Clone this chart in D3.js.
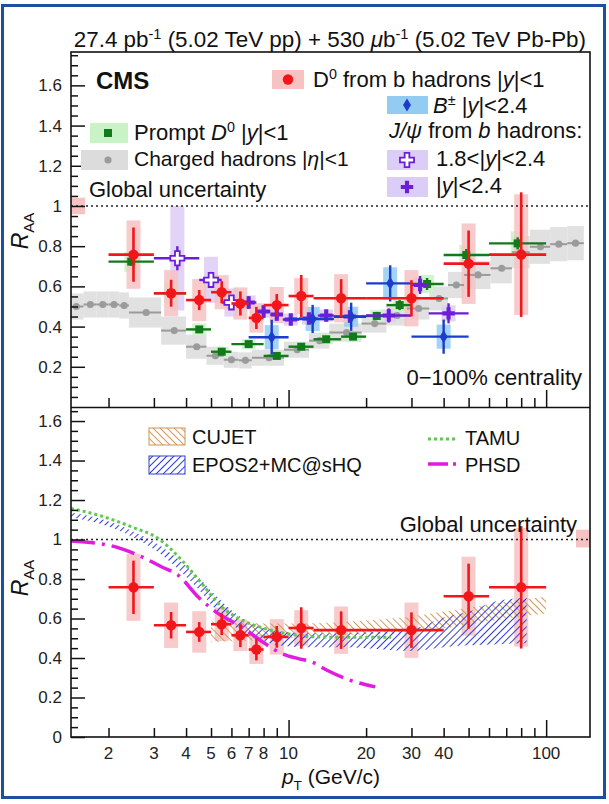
<!DOCTYPE html>
<html>
<head>
<meta charset="utf-8">
<script src="https://cdn.jsdelivr.net/npm/d3@7"></script>
<style>
  body { margin: 0; background: #fff; }
  svg { display: block; font-family: "Liberation Sans", Arial, Helvetica, sans-serif; }
</style>
</head>
<body>
<svg id="chart" width="609" height="804"></svg>
<script>
// ---- data ----
// D0 from b hadrons |y|<1 (red, both panels)
const npD0Lo   = [2, 3, 4, 5, 6, 7, 8, 10, 12.5, 20, 40, 60];
const npD0Hi   = [3, 4, 5, 6, 7, 8, 10, 12.5, 20, 40, 60, 100];
const npD0Pt   = [2.5, 3.5, 4.5, 5.5, 6.5, 7.5, 9, 11.2, 16, 30, 50, 80];
const npD0Val  = [0.758, 0.566, 0.532, 0.571, 0.515, 0.443, 0.507, 0.552, 0.541, 0.541, 0.713, 0.758];
const npD0Stat = [0.135, 0.067, 0.05, 0.055, 0.06, 0.055, 0.055, 0.105, 0.095, 0.09, 0.165, 0.31];
const npD0Syst = [0.17, 0.115, 0.105, 0.085, 0.08, 0.073, 0.09, 0.09, 0.12, 0.14, 0.2, 0.3];

// prompt D0 |y|<1 (green)
const pD0Lo   = [2, 3, 4, 5, 6, 8, 10, 12.5, 16, 20, 24, 30, 40, 60];
const pD0Hi   = [3, 4, 5, 6, 8, 10, 12.5, 16, 20, 24, 30, 40, 60, 100];
const pD0Pt   = [2.45, 3.5, 4.5, 5.5, 7, 9, 11.2, 14, 17.8, 22, 27, 34.5, 49, 77.5];
const pD0Val  = [0.723, 0.566, 0.386, 0.275, 0.313, 0.254, 0.30, 0.337, 0.35, 0.453, 0.507, 0.612, 0.756, 0.814];
const pD0Stat = [0.02, 0.015, 0.012, 0.01, 0.01, 0.01, 0.01, 0.012, 0.015, 0.02, 0.025, 0.03, 0.03, 0.03];
const pD0Syst = [0.05, 0.05, 0.03, 0.025, 0.025, 0.02, 0.02, 0.025, 0.025, 0.03, 0.035, 0.045, 0.05, 0.06];

// B+- |y|<2.4 (blue)
const bLo   = [7, 10, 15, 20, 30];
const bHi   = [10, 15, 20, 30, 50];
const bPt   = [8.6, 12.4, 17.5, 24.8, 40];
const bVal  = [0.347, 0.438, 0.449, 0.615, 0.35];
const bStat = [0.087, 0.07, 0.07, 0.09, 0.085];
const bSyst = [0.06, 0.06, 0.05, 0.08, 0.06];

// non-prompt J/psi 1.8<|y|<2.4 (open purple)
const jFwdLo   = [3, 4.5, 5.5];
const jFwdHi   = [4.5, 5.5, 6.5];
const jFwdPt   = [3.7, 5.0, 6.0];
const jFwdVal  = [0.74, 0.632, 0.52];
const jFwdStat = [0.06, 0.04, 0.035];
const jFwdSyst = [0.26, 0.115, 0.07];

// non-prompt J/psi |y|<2.4 (filled purple)
const jLo   = [6.5, 7.5, 8.5, 9.5, 11, 13, 15, 20, 30, 35];
const jHi   = [7.5, 8.5, 9.5, 11, 13, 15, 20, 30, 35, 50];
const jPt   = [7, 8, 9, 10.2, 12, 14, 17.3, 24.5, 32.4, 41.8];
const jVal  = [0.52, 0.475, 0.46, 0.435, 0.44, 0.455, 0.45, 0.455, 0.607, 0.466];
const jStat = [0.03, 0.03, 0.03, 0.025, 0.025, 0.025, 0.03, 0.035, 0.045, 0.05];
const jSyst = [0.035, 0.03, 0.03, 0.03, 0.03, 0.03, 0.03, 0.03, 0.04, 0.04];

// charged hadrons |eta|<1 (gray)
const hLo  = [1.4, 1.6, 1.8, 2.0, 2.2, 2.4, 3.2, 4.0, 4.8, 5.6, 6.4, 7.2, 9.6, 12, 14.4, 19.2, 24, 28.8, 35.2, 41.6, 48, 60.8, 73.6, 86.4, 103.6, 120.8];
const hHi  = [1.6, 1.8, 2.0, 2.2, 2.4, 3.2, 4.0, 4.8, 5.6, 6.4, 7.2, 9.6, 12, 14.4, 19.2, 24, 28.8, 35.2, 41.6, 48, 60.8, 73.6, 86.4, 103.6, 120.8, 140];
const hPt  = [1.5, 1.7, 1.9, 2.1, 2.3, 2.8, 3.6, 4.4, 5.2, 6.0, 6.8, 8.4, 10.8, 13.2, 16.8, 21.6, 26.4, 32, 38.4, 44.8, 54.4, 67.2, 80, 95, 112, 130];
const hVal = [0.50, 0.51, 0.51, 0.51, 0.505, 0.47, 0.38, 0.30, 0.255, 0.235, 0.232, 0.245, 0.285, 0.33, 0.37, 0.415, 0.455, 0.49, 0.54, 0.607, 0.657, 0.69, 0.77, 0.797, 0.81, 0.815];
const hSyst = [0.065, 0.065, 0.065, 0.065, 0.065, 0.075, 0.07, 0.06, 0.045, 0.04, 0.04, 0.04, 0.04, 0.04, 0.045, 0.045, 0.05, 0.055, 0.06, 0.065, 0.07, 0.075, 0.08, 0.085, 0.085, 0.085];

// models (bottom panel)
const tamuPt = [1.43, 1.83, 2.46, 3.12, 3.85, 4.6, 5.5, 6.4, 8.1, 10.9, 12.7, 17, 25];
const tamuR  = [1.157, 1.123, 1.064, 1.005, 0.895, 0.777, 0.659, 0.60, 0.549, 0.515, 0.507, 0.505, 0.505];
const phsdPt = [1.43, 2.13, 2.61, 3.22, 3.73, 4.46, 5.34, 6.58, 8.1, 9.41, 10.9, 12.3, 14.1, 17.3, 21.7];
const phsdR  = [0.993, 0.963, 0.92, 0.861, 0.819, 0.709, 0.625, 0.557, 0.473, 0.423, 0.397, 0.38, 0.338, 0.288, 0.254];
const eposPt = [1.43, 1.83, 2.46, 3.12, 3.73, 4.46, 5.18, 6.02, 7.2, 9.13, 11.6, 16, 20, 30, 40, 50, 65, 84];
const eposLo = [1.113, 1.082, 1.015, 0.935, 0.85, 0.75, 0.65, 0.57, 0.505, 0.465, 0.455, 0.455, 0.45, 0.435, 0.455, 0.465, 0.47, 0.475];
const eposHi = [1.137, 1.108, 1.045, 0.975, 0.90, 0.81, 0.72, 0.64, 0.575, 0.535, 0.525, 0.525, 0.53, 0.545, 0.605, 0.635, 0.69, 0.705];
const cujetPt = [5, 6, 8, 10, 15, 20, 30, 40, 50, 70, 100];
const cujetLo = [0.48, 0.485, 0.49, 0.50, 0.515, 0.52, 0.53, 0.55, 0.57, 0.60, 0.625];
const cujetHi = [0.585, 0.58, 0.575, 0.575, 0.58, 0.59, 0.61, 0.635, 0.655, 0.685, 0.71];

// axes
const yTickVals = [0, 0.2, 0.4, 0.6, 0.8, 1, 1.2, 1.4, 1.6];
const xLabelVals = [2, 3, 4, 5, 6, 7, 8, 10, 20, 30, 40, 100];
const xMajor = [10, 100];
const xMinor = [2, 3, 4, 5, 6, 7, 8, 9, 20, 30, 40, 50, 60, 70, 80, 90];

// ---- drawing ----
const svg = d3.select("#chart");
const L = 71, R = 590;
const x = d3.scaleLog().domain([1.43, 148]).range([L, R]);
const yTop = d3.scaleLinear().domain([0, 1.766]).range([407, 52]);
const yBot = d3.scaleLinear().domain([0, 1.666]).range([737, 408]);

const defs = svg.append("defs");
defs.append("clipPath").attr("id", "clipTop").append("rect")
    .attr("x", L).attr("y", 52).attr("width", R - L).attr("height", 355);
defs.append("clipPath").attr("id", "clipBot").append("rect")
    .attr("x", L).attr("y", 408).attr("width", R - L).attr("height", 329);

function hatch(id, color, angle, w) {
    defs.append("pattern").attr("id", id)
        .attr("patternUnits", "userSpaceOnUse")
        .attr("width", 5).attr("height", 5)
        .attr("patternTransform", `rotate(${angle})`)
        .append("line")
        .attr("x1", 0).attr("y1", 0).attr("x2", 0).attr("y2", 5)
        .attr("stroke", color).attr("stroke-width", w);
}
hatch("hatchCujet", "#d1914e", -45, 1.8);
hatch("hatchEpos", "#3040d8", 45, 2);

// outer blue border
svg.append("rect").attr("x", 2.5).attr("y", 5.5).attr("width", 602).attr("height", 792)
    .attr("fill", "none").attr("stroke", "#1f4f9e").attr("stroke-width", 3);

function rich(g, xp, yp, parts, size, anchor) {
    const t = g.append("text").attr("x", xp).attr("y", yp)
        .attr("font-size", size).attr("text-anchor", anchor || "start").attr("fill", "#111");
    let shift = 0;
    parts.forEach(p => {
        const sp = t.append("tspan").text(p.t);
        const target = p.sup ? -0.36 * size : p.sub ? 0.28 * size : 0;
        if (target !== shift) { sp.attr("dy", target - shift); shift = target; }
        if (p.sup || p.sub) sp.attr("font-size", size * 0.65);
        if (p.it) sp.attr("font-style", "italic");
        if (p.b) sp.attr("font-weight", "bold");
    });
    return t;
}

const sym = {
    circle: d3.symbol(d3.symbolCircle, 85)(),
    small: d3.symbol(d3.symbolCircle, 40)(),
    square: d3.symbol(d3.symbolSquare, 64)(),
    diamond: "M0,-6.5L4,0L0,6.5L-4,0Z",
    cross: d3.symbol(d3.symbolCross, 85)(),
    ocross: d3.symbol(d3.symbolCross, 110)()
};

function drawBoxes(g, y, s) {
    g.selectAll(null).data(s.val).enter().append("rect")
        .attr("x", (d, i) => s.boxW ? x(s.pt[i]) - s.boxW / 2 : x(s.lo[i]))
        .attr("width", (d, i) => s.boxW ? s.boxW : x(s.hi[i]) - x(s.lo[i]))
        .attr("y", (d, i) => y(d + s.syst[i]))
        .attr("height", (d, i) => y(d - s.syst[i]) - y(d + s.syst[i]))
        .attr("fill", s.boxColor).attr("opacity", 0.85);
}

function drawPoints(g, y, s) {
    const sg = g.append("g");
    sg.selectAll(null).data(s.val).enter().append("line")
        .attr("x1", (d, i) => x(s.lo[i])).attr("x2", (d, i) => x(s.hi[i]))
        .attr("y1", d => y(d)).attr("y2", d => y(d))
        .attr("stroke", s.color).attr("stroke-width", s.lw);
    if (s.stat) {
        sg.selectAll(null).data(s.val).enter().append("line")
            .attr("x1", (d, i) => x(s.pt[i])).attr("x2", (d, i) => x(s.pt[i]))
            .attr("y1", (d, i) => y(d + s.stat[i])).attr("y2", (d, i) => y(d - s.stat[i]))
            .attr("stroke", s.color).attr("stroke-width", s.lw);
    }
    sg.selectAll(null).data(s.val).enter().append("path")
        .attr("d", s.marker)
        .attr("transform", (d, i) => `translate(${x(s.pt[i])},${y(d)})`)
        .attr("fill", s.open ? "#fff" : s.color)
        .attr("stroke", s.open ? s.color : "none")
        .attr("stroke-width", 1.8);
}

const red = { lo: npD0Lo, hi: npD0Hi, pt: npD0Pt, val: npD0Val, stat: npD0Stat, syst: npD0Syst,
    color: "#f2161b", boxColor: "#f6c2c2", boxW: 14, marker: sym.circle, lw: 2.6 };
const green = { lo: pD0Lo, hi: pD0Hi, pt: pD0Pt, val: pD0Val, stat: pD0Stat, syst: pD0Syst,
    color: "#137a1b", boxColor: "#c9f3c6", boxW: 14, marker: sym.square, lw: 2.4 };
const blue = { lo: bLo, hi: bHi, pt: bPt, val: bVal, stat: bStat, syst: bSyst,
    color: "#1b3ccc", boxColor: "#93cbf3", boxW: 14, marker: sym.diamond, lw: 2.4 };
const purpO = { lo: jFwdLo, hi: jFwdHi, pt: jFwdPt, val: jFwdVal, stat: jFwdStat, syst: jFwdSyst,
    color: "#6a1fd6", boxColor: "#dccdf6", boxW: 14, marker: sym.ocross, lw: 2.4, open: true };
const purpF = { lo: jLo, hi: jHi, pt: jPt, val: jVal, stat: jStat, syst: jSyst,
    color: "#6a1fd6", boxColor: "#dccdf6", boxW: 14, marker: sym.cross, lw: 2.4 };
const gray = { lo: hLo, hi: hHi, pt: hPt, val: hVal, syst: hSyst,
    color: "#9b9b9b", boxColor: "#dcdcdc", marker: sym.small, lw: 2 };

// ---------- top panel ----------
const gTop = svg.append("g").attr("clip-path", "url(#clipTop)");
drawBoxes(gTop, yTop, gray);
[purpO, purpF, green, blue, red].forEach(s => drawBoxes(gTop, yTop, s));
gTop.append("rect").attr("x", L).attr("width", 14)
    .attr("y", yTop(1.041)).attr("height", yTop(0.959) - yTop(1.041)).attr("fill", "#f6c2c2");
gTop.append("line").attr("x1", L).attr("x2", R).attr("y1", yTop(1)).attr("y2", yTop(1))
    .attr("stroke", "#222").attr("stroke-width", 1.6).attr("stroke-dasharray", "2,3");
[gray, green, purpO, purpF, blue, red].forEach(s => drawPoints(gTop, yTop, s));

// ---------- bottom panel ----------
const gBot = svg.append("g").attr("clip-path", "url(#clipBot)");
drawBoxes(gBot, yBot, red);
gBot.append("rect").attr("x", R - 14).attr("width", 14)
    .attr("y", yBot(1.05)).attr("height", yBot(0.96) - yBot(1.05)).attr("fill", "#f6c2c2");
gBot.append("line").attr("x1", L).attr("x2", R).attr("y1", yBot(1)).attr("y2", yBot(1))
    .attr("stroke", "#222").attr("stroke-width", 1.6).attr("stroke-dasharray", "2,3");

const band = d3.area().x(d => x(d[0])).y0(d => yBot(d[1])).y1(d => yBot(d[2])).curve(d3.curveMonotoneX);
gBot.append("path").attr("d", band(cujetPt.map((p, i) => [p, cujetLo[i], cujetHi[i]])))
    .attr("fill", "url(#hatchCujet)");
gBot.append("path").attr("d", band(eposPt.map((p, i) => [p, eposLo[i], eposHi[i]])))
    .attr("fill", "url(#hatchEpos)");

const curve = d3.line().x(d => x(d[0])).y(d => yBot(d[1])).curve(d3.curveMonotoneX);
gBot.append("path").attr("d", curve(tamuPt.map((p, i) => [p, tamuR[i]])))
    .attr("fill", "none").attr("stroke", "#5fc84e").attr("stroke-width", 3).attr("stroke-dasharray", "3,3");
gBot.append("path").attr("d", curve(phsdPt.map((p, i) => [p, phsdR[i]])))
    .attr("fill", "none").attr("stroke", "#e11be0").attr("stroke-width", 3.5).attr("stroke-dasharray", "24,7,3,7");
drawPoints(gBot, yBot, red);

// ---------- axes ----------
function yAxis(y, vals, show0) {
    const g = svg.append("g").attr("transform", `translate(${L},0)`);
    g.append("g").call(d3.axisLeft(y).tickValues(vals).tickSizeInner(-14).tickSizeOuter(0).tickPadding(9)
        .tickFormat(d => (d === 0 && !show0) ? "" : (d === 0 || d === 1) ? String(d) : d.toFixed(1)));
    const minor = d3.range(0, y.domain()[1], 0.05).filter(v => Math.abs(v * 5 - Math.round(v * 5)) > 1e-6);
    g.append("g").call(d3.axisLeft(y).tickValues(minor).tickSizeInner(-7).tickSizeOuter(0).tickFormat(""));
    g.selectAll(".domain").remove();
    g.selectAll("line").attr("stroke", "#111").attr("stroke-width", 1.5);
    g.selectAll("text").attr("fill", "#222").attr("font-size", 17)
        .attr("font-family", "Liberation Sans, Arial, sans-serif");
}
yAxis(yTop, yTickVals.filter(v => v > 0), false);
yAxis(yBot, yTickVals, true);

function xTicks(yPos) {
    const g = svg.append("g").attr("transform", `translate(0,${yPos})`);
    g.append("g").call(d3.axisBottom(x).tickValues(xMajor).tickSizeInner(-17).tickSizeOuter(0).tickFormat(""));
    g.append("g").call(d3.axisBottom(x).tickValues(xMinor).tickSizeInner(-9).tickSizeOuter(0).tickFormat(""));
    g.selectAll(".domain").remove();
    g.selectAll("line").attr("stroke", "#111").attr("stroke-width", 1.5);
}
xTicks(407);
xTicks(737);

svg.append("g").selectAll(null).data(xLabelVals).enter().append("text")
    .attr("x", d => x(d)).attr("y", 759).attr("text-anchor", "middle")
    .attr("font-size", 17).attr("fill", "#222").text(d => d);

// frame
svg.append("rect").attr("x", L).attr("y", 52).attr("width", R - L).attr("height", 685)
    .attr("fill", "none").attr("stroke", "#111").attr("stroke-width", 1.6);
svg.append("line").attr("x1", L).attr("x2", R).attr("y1", 407.5).attr("y2", 407.5)
    .attr("stroke", "#111").attr("stroke-width", 1.6);

// ---------- texts ----------
const T = svg.append("g");
rich(T, 586, 47, [{ t: "27.4 pb" }, { t: "-1", sup: true }, { t: " (5.02 TeV pp) + 530 " },
    { t: "\u03bc", it: true }, { t: "b" }, { t: "-1", sup: true }, { t: " (5.02 TeV Pb-Pb)" }], 22.4, "end");
rich(T, 96, 89, [{ t: "CMS", b: true }], 24);

// axis titles
const ra = (cy) => {
    const g = T.append("g").attr("transform", `translate(28,${cy}) rotate(-90)`);
    rich(g, 0, 0, [{ t: "R", it: true }, { t: "AA", sub: true }], 23, "middle");
};
ra(231);
ra(578);
rich(T, 331, 784, [{ t: "p", it: true }, { t: "T", sub: true }, { t: " (GeV/c)" }], 21, "middle");

// legend, top panel
const LF = 22;
T.append("rect").attr("x", 272).attr("y", 70).attr("width", 32).attr("height", 19).attr("fill", "#f6c2c2");
T.append("path").attr("d", sym.circle).attr("transform", "translate(288,79.5)").attr("fill", red.color);
rich(T, 313, 87, [{ t: "D" }, { t: "0", sup: true }, { t: " from b hadrons |" }, { t: "y", it: true }, { t: "|<1" }], LF);

T.append("rect").attr("x", 387).attr("y", 96).attr("width", 41).attr("height", 18).attr("fill", blue.boxColor);
T.append("path").attr("d", sym.diamond).attr("transform", "translate(407,105)").attr("fill", blue.color);
rich(T, 433, 113, [{ t: "B", it: true }, { t: "\u00b1", sup: true }, { t: " |" }, { t: "y", it: true }, { t: "|<2.4" }], LF);

rich(T, 389, 138, [{ t: "J/\u03c8", it: true }, { t: " from " }, { t: "b", it: true }, { t: " hadrons:" }], LF);

T.append("rect").attr("x", 387).attr("y", 150).attr("width", 41).attr("height", 20).attr("fill", purpO.boxColor);
T.append("path").attr("d", sym.ocross).attr("transform", "translate(407,160)")
    .attr("fill", "#fff").attr("stroke", purpO.color).attr("stroke-width", 1.8);
rich(T, 436, 166, [{ t: "1.8<|" }, { t: "y", it: true }, { t: "|<2.4" }], LF);

T.append("rect").attr("x", 387).attr("y", 177).attr("width", 41).attr("height", 20).attr("fill", purpF.boxColor);
T.append("path").attr("d", sym.cross).attr("transform", "translate(407,187)").attr("fill", purpF.color);
rich(T, 436, 193, [{ t: "|" }, { t: "y", it: true }, { t: "|<2.4" }], LF);

T.append("rect").attr("x", 90).attr("y", 123).attr("width", 38).attr("height", 20).attr("fill", green.boxColor);
T.append("path").attr("d", sym.square).attr("transform", "translate(108,133)").attr("fill", green.color);
rich(T, 134, 140, [{ t: "Prompt " }, { t: "D", it: true }, { t: "0", sup: true }, { t: " |" }, { t: "y", it: true }, { t: "|<1" }], LF);

T.append("rect").attr("x", 81).attr("y", 150).attr("width", 47).attr("height", 20).attr("fill", gray.boxColor);
T.append("path").attr("d", sym.small).attr("transform", "translate(108,160)").attr("fill", gray.color);
rich(T, 134, 166, [{ t: "Charged hadrons |" }, { t: "\u03b7", it: true }, { t: "|<1" }], 21);

rich(T, 89, 197, [{ t: "Global uncertainty" }], LF);
rich(T, 582, 385, [{ t: "0\u2212100% centrality" }], LF, "end");

// legend, bottom panel
T.append("rect").attr("x", 149).attr("y", 428).attr("width", 36).attr("height", 17)
    .attr("fill", "url(#hatchCujet)").attr("stroke", "#d1914e").attr("stroke-width", 1);
rich(T, 192, 444, [{ t: "CUJET" }], 20);
T.append("rect").attr("x", 149).attr("y", 456).attr("width", 36).attr("height", 18)
    .attr("fill", "url(#hatchEpos)").attr("stroke", "#3040d8").attr("stroke-width", 1);
rich(T, 192, 472, [{ t: "EPOS2+MC@sHQ" }], 20);
T.append("line").attr("x1", 428).attr("x2", 458).attr("y1", 439).attr("y2", 439)
    .attr("stroke", "#5fc84e").attr("stroke-width", 3).attr("stroke-dasharray", "3,3");
rich(T, 465, 445, [{ t: "TAMU" }], 20);
T.append("line").attr("x1", 428).attr("x2", 458).attr("y1", 464).attr("y2", 464)
    .attr("stroke", "#e11be0").attr("stroke-width", 3.5).attr("stroke-dasharray", "20,5,3,6");
rich(T, 465, 472, [{ t: "PHSD" }], 20);
rich(T, 577, 532, [{ t: "Global uncertainty" }], LF, "end");
</script>
</body>
</html>
